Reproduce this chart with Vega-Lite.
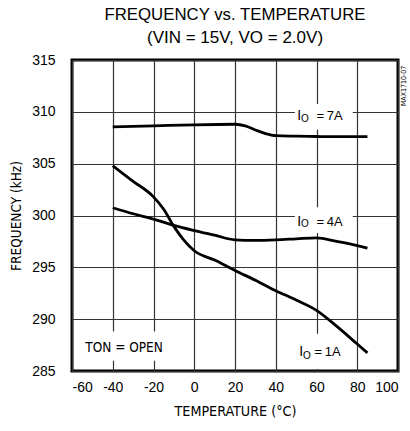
{
  "$schema": "https://vega.github.io/schema/vega-lite/v6.json",
  "width": 326,
  "height": 311,
  "autosize": {"type": "none"},
  "padding": {"left": 72, "top": 60, "right": 12, "bottom": 60},
  "background": "white",
  "title": {
    "text": "FREQUENCY vs. TEMPERATURE",
    "subtitle": "(VIN = 15V, VO = 2.0V)",
    "anchor": "middle",
    "font": "Liberation Sans",
    "fontSize": 16.8,
    "fontWeight": "normal",
    "color": "black",
    "subtitleFont": "Liberation Sans",
    "subtitleFontSize": 17,
    "subtitleColor": "black",
    "subtitlePadding": 6,
    "offset": 7
  },
  "config": {
    "view": {"stroke": "black", "strokeWidth": 3},
    "axis": {
      "domain": false,
      "ticks": false,
      "tickSize": 0,
      "grid": true,
      "gridColor": "#333333",
      "gridWidth": 1.2,
      "gridOpacity": 1,
      "labelFont": "Liberation Sans",
      "labelFontSize": 14,
      "labelColor": "black",
      "labelExpr": "replace(datum.label, '\u2212', '-')",
      "titleFont": "DejaVu Sans Condensed, Liberation Sans",
      "titleFontSize": 13.5,
      "titleFontWeight": "normal",
      "titleColor": "black"
    }
  },
  "datasets": {
    "curves": [
      {"t": -40, "f": 308.55, "io": "7A"},
      {"t": -20, "f": 308.65, "io": "7A"},
      {"t": 0, "f": 308.75, "io": "7A"},
      {"t": 20, "f": 308.8, "io": "7A"},
      {"t": 25, "f": 308.65, "io": "7A"},
      {"t": 30, "f": 308.25, "io": "7A"},
      {"t": 35, "f": 307.9, "io": "7A"},
      {"t": 40, "f": 307.7, "io": "7A"},
      {"t": 50, "f": 307.65, "io": "7A"},
      {"t": 60, "f": 307.62, "io": "7A"},
      {"t": 70, "f": 307.6, "io": "7A"},
      {"t": 85, "f": 307.6, "io": "7A"},
      {"t": -40, "f": 300.75, "io": "4A"},
      {"t": -30, "f": 300.17, "io": "4A"},
      {"t": -20, "f": 299.65, "io": "4A"},
      {"t": -10, "f": 299.05, "io": "4A"},
      {"t": 0, "f": 298.55, "io": "4A"},
      {"t": 10, "f": 298.1, "io": "4A"},
      {"t": 20, "f": 297.65, "io": "4A"},
      {"t": 30, "f": 297.6, "io": "4A"},
      {"t": 40, "f": 297.65, "io": "4A"},
      {"t": 50, "f": 297.75, "io": "4A"},
      {"t": 60, "f": 297.85, "io": "4A"},
      {"t": 70, "f": 297.5, "io": "4A"},
      {"t": 80, "f": 297.1, "io": "4A"},
      {"t": 85, "f": 296.85, "io": "4A"},
      {"t": -40, "f": 304.8, "io": "1A"},
      {"t": -30, "f": 303.3, "io": "1A"},
      {"t": -20, "f": 301.8, "io": "1A"},
      {"t": -15, "f": 300.6, "io": "1A"},
      {"t": -10, "f": 298.95, "io": "1A"},
      {"t": -5, "f": 297.6, "io": "1A"},
      {"t": 0, "f": 296.6, "io": "1A"},
      {"t": 10, "f": 295.7, "io": "1A"},
      {"t": 20, "f": 294.7, "io": "1A"},
      {"t": 30, "f": 293.75, "io": "1A"},
      {"t": 40, "f": 292.75, "io": "1A"},
      {"t": 50, "f": 291.85, "io": "1A"},
      {"t": 60, "f": 290.85, "io": "1A"},
      {"t": 70, "f": 289.3, "io": "1A"},
      {"t": 80, "f": 287.6, "io": "1A"},
      {"t": 85, "f": 286.75, "io": "1A"}
    ],
    "boxes": [
      {"x1": 49.4, "x2": 77.8, "y1": 308.3, "y2": 310.75},
      {"x1": 49.4, "x2": 77.8, "y1": 298.3, "y2": 300.8},
      {"x1": 50, "x2": 76, "y1": 285.2, "y2": 288.6},
      {"x1": -55, "x2": -12, "y1": 286.0, "y2": 288.8}
    ],
    "capI": [
      {"x": 50.6, "y": 309.2},
      {"x": 50.6, "y": 299.03},
      {"x": 51.5, "y": 286.4}
    ],
    "subO": [
      {"x": 52.4, "y": 309.0},
      {"x": 52.4, "y": 298.85},
      {"x": 53.4, "y": 286.2}
    ],
    "vals": [
      {"x": 60.0, "y": 309.2, "label": "=\u20097A"},
      {"x": 60.0, "y": 299.03, "label": "=\u20094A"},
      {"x": 59.0, "y": 286.4, "label": "=\u20091A"}
    ],
    "note": [
      {"x": -53.5, "y": 286.87, "label": "TON = OPEN"}
    ],
    "code": [
      {"x": 103, "y": 312.5, "label": "MAX1710-07"}
    ]
  },
  "layer": [
    {
      "data": {"name": "boxes"},
      "mark": {"type": "rect", "fill": "white", "stroke": null},
      "encoding": {
        "x": {"field": "x1", "type": "quantitative", "scale": {"domain": [-60, 100], "nice": false, "zero": false},
              "axis": {"values": [-60, -40, -20, 0, 20, 40, 60, 80, 100], "labelPadding": 9, "title": "TEMPERATURE (°C)", "titlePadding": 10, "titleFontSize": 14.2}},
        "x2": {"field": "x2"},
        "y": {"field": "y1", "type": "quantitative", "scale": {"domain": [285, 315], "nice": false, "zero": false},
              "axis": {"values": [285, 290, 295, 300, 305, 310, 315], "labelPadding": 17, "title": "FREQUENCY (kHz)", "titlePadding": 8}},
        "y2": {"field": "y2"}
      }
    },
    {
      "data": {"name": "curves"},
      "mark": {"type": "line", "color": "black", "strokeWidth": 2.8, "interpolate": "monotone"},
      "encoding": {
        "x": {"field": "t", "type": "quantitative"},
        "y": {"field": "f", "type": "quantitative"},
        "detail": {"field": "io"}
      }
    },
    {
      "data": {"name": "capI"},
      "mark": {"type": "text", "text": "I", "font": "Liberation Sans", "fontSize": 14, "align": "left", "baseline": "alphabetic", "color": "black"},
      "encoding": {
        "x": {"field": "x", "type": "quantitative"},
        "y": {"field": "y", "type": "quantitative"}
      }
    },
    {
      "data": {"name": "subO"},
      "mark": {"type": "text", "text": "O", "font": "Liberation Sans", "fontSize": 10, "align": "left", "baseline": "alphabetic", "color": "black"},
      "encoding": {
        "x": {"field": "x", "type": "quantitative"},
        "y": {"field": "y", "type": "quantitative"}
      }
    },
    {
      "data": {"name": "vals"},
      "mark": {"type": "text", "font": "Liberation Sans", "fontSize": 13, "align": "left", "baseline": "alphabetic", "color": "black"},
      "encoding": {
        "x": {"field": "x", "type": "quantitative"},
        "y": {"field": "y", "type": "quantitative"},
        "text": {"field": "label"}
      }
    },
    {
      "data": {"name": "note"},
      "mark": {"type": "text", "font": "DejaVu Sans Condensed, Liberation Sans", "fontSize": 13.5, "align": "left", "baseline": "alphabetic", "color": "black"},
      "encoding": {
        "x": {"field": "x", "type": "quantitative"},
        "y": {"field": "y", "type": "quantitative"},
        "text": {"field": "label"}
      }
    },
    {
      "data": {"name": "code"},
      "mark": {"type": "text", "font": "DejaVu Sans Condensed, Liberation Sans", "fontSize": 7, "align": "center", "baseline": "middle", "angle": 270, "color": "black"},
      "encoding": {
        "x": {"field": "x", "type": "quantitative"},
        "y": {"field": "y", "type": "quantitative"},
        "text": {"field": "label"}
      }
    }
  ]
}
